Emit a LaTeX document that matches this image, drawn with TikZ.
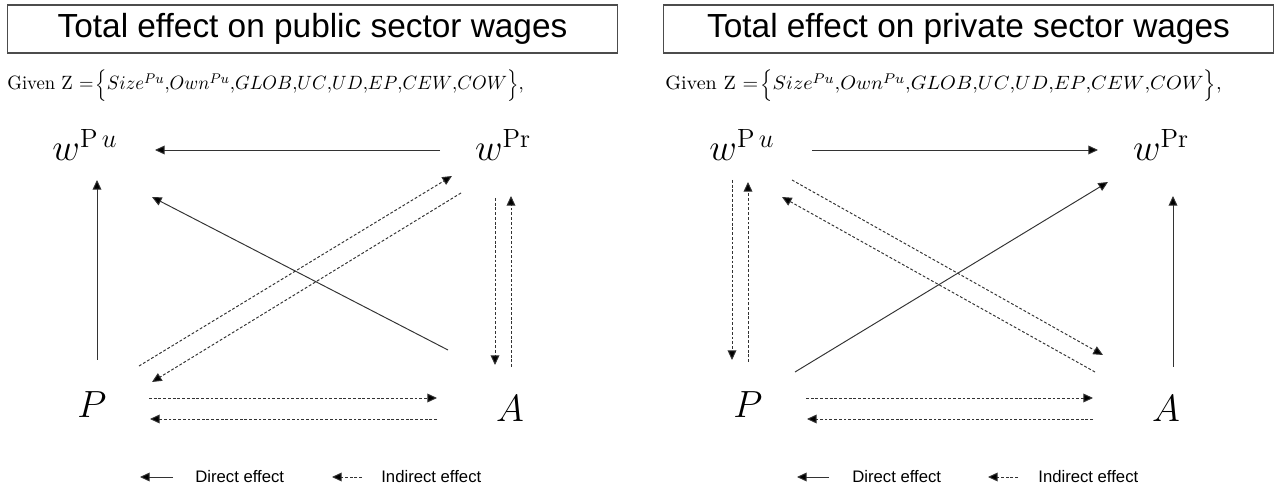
\documentclass[tikz,border=0pt]{standalone}
\usepackage{fontspec}
\usepackage{graphicx}
\newfontfamily\arialfont{Liberation Sans}
\usetikzlibrary{arrows.meta, calc}

\begin{document}
\begin{tikzpicture}[x=0.02cm, y=-0.02cm,
  ttl/.style={draw=black!70, line width=0.6pt, minimum width=12.22cm, minimum height=0.96cm, inner sep=0pt, font=\arialfont\fontsize{19}{22}\selectfont},
  given/.style={anchor=base west, inner sep=0pt, font=\fontsize{10.95}{13}\selectfont},
  lbl/.style={inner sep=0pt, font=\fontsize{20.74}{25}\selectfont},
  key/.style={anchor=west, inner sep=0pt, font=\arialfont\fontsize{9.5}{11}\selectfont},
  direct/.style={draw=black!80, line width=0.55pt, -{Triangle[length=5.5pt,width=5pt,fill=black]}},
  indirect/.style={direct, dash pattern=on 1.6pt off 1.1pt}
]
  \useasboundingbox (0,0) rectangle (1275,489);

  % public sector panel
  \node[ttl] (ttl1) at (312.5,29) {Total effect on public sector wages};
  \node[given] (giv1) at (7,90) {\scalebox{0.97}[1]{Given Z $=\!\left\{Size^{Pu}{,}Own^{Pu}{,}GLOB{,}UC{,}UD{,}EP{,}CEW{,}COW\right\}$,}};

  \node[lbl] (wpu1) at (85,145) {\scalebox{1.04}{$w^{\mathrm{P}\,u}$}};
  \node[lbl] (wpr1) at (503,145) {\scalebox{1.04}{$w^{\mathrm{Pr}}$}};
  \node[lbl] (p1) at (92,405) {\scalebox{1.04}{$P$}};
  \node[lbl] (a1) at (510,409) {\scalebox{1.04}{$A$}};

  \draw[direct] ($(wpr1)+(-63,5)$) -- ($(wpu1)+(70,5)$);
  \draw[direct] ($(p1)+(5,-45)$) -- ($(wpu1)+(12,35)$);
  \draw[direct] ($(a1)+(-62,-59)$) -- ($(wpu1)+(67,52)$);
  \draw[indirect] ($(p1)+(47,-39)$) -- ($(wpr1)+(-51,31)$);
  \draw[indirect] ($(wpr1)+(-42,48)$) -- ($(p1)+(60,-23)$);
  \draw[indirect] ($(wpr1)+(-8,53)$) -- ($(a1)+(-15,-44)$);
  \draw[indirect] ($(a1)+(1,-42)$) -- ($(wpr1)+(8,51)$);
  \draw[indirect] ($(p1)+(57,-7)$) -- ($(a1)+(-73,-11)$);
  \draw[indirect] ($(a1)+(-73,10)$) -- ($(p1)+(58,14)$);

  \node[key] (dir1) at (195,477) {Direct effect};
  \node[key] (ind1) at (381,477) {Indirect effect};
  \draw[direct] ($(dir1.west)+(-22,0)$) -- ($(dir1.west)+(-55,0)$);
  \draw[indirect] ($(ind1.west)+(-19,0)$) -- ($(ind1.west)+(-49,0)$);

  % private sector panel
  \node[ttl] (ttl2) at (968.5,29) {Total effect on private sector wages};
  \node[given] (giv2) at (665,90) {\scalebox{1.045}[1]{Given Z $=\!\left\{Size^{Pu}{,}Own^{Pu}{,}GLOB{,}UC{,}UD{,}EP{,}CEW{,}COW\right\}$,}};

  \node[lbl] (wpu2) at (742,145) {\scalebox{1.04}{$w^{\mathrm{P}\,u}$}};
  \node[lbl] (wpr2) at (1161,145) {\scalebox{1.04}{$w^{\mathrm{Pr}}$}};
  \node[lbl] (p2) at (748,405) {\scalebox{1.04}{$P$}};
  \node[lbl] (a2) at (1166,409) {\scalebox{1.04}{$A$}};

  \draw[direct] ($(wpu2)+(70,5)$) -- ($(wpr2)+(-63,5)$);
  \draw[indirect] ($(wpu2)+(-10,35)$) -- ($(p2)+(-16,-45)$);
  \draw[indirect] ($(p2)+(0,-43)$) -- ($(wpu2)+(6,37)$);
  \draw[indirect] ($(wpu2)+(50,35)$) -- ($(a2)+(-63,-54)$);
  \draw[indirect] ($(a2)+(-71,-37)$) -- ($(wpu2)+(40,52)$);
  \draw[direct] ($(p2)+(47,-33)$) -- ($(wpr2)+(-53,37)$);
  \draw[direct] ($(a2)+(7,-42)$) -- ($(wpr2)+(12,51)$);
  \draw[indirect] ($(p2)+(58,-7)$) -- ($(a2)+(-73,-11)$);
  \draw[indirect] ($(a2)+(-73,10)$) -- ($(p2)+(59,14)$);

  \node[key] (dir2) at (852,477) {Direct effect};
  \node[key] (ind2) at (1038,477) {Indirect effect};
  \draw[direct] ($(dir2.west)+(-23,0)$) -- ($(dir2.west)+(-55,0)$);
  \draw[indirect] ($(ind2.west)+(-20,0)$) -- ($(ind2.west)+(-50,0)$);
\end{tikzpicture}
\end{document}
